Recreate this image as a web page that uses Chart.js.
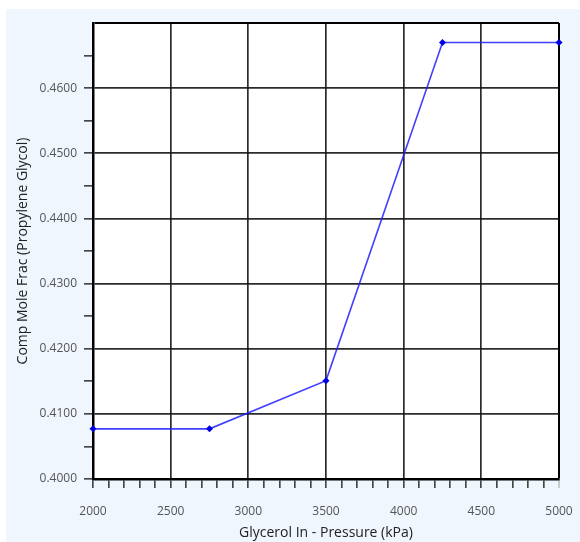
<!DOCTYPE html>
<html>
<head>
<meta charset="utf-8">
<script src="https://cdn.jsdelivr.net/npm/chart.js@4"></script>
<style>
  html, body { margin: 0; padding: 0; background: #fff; }
  #wrap { width: 580px; height: 542px; }
</style>
</head>
<body>
<div id="wrap"><canvas id="chart" width="580" height="542"></canvas></div>
<script>
// values
const pressure = [2000, 2750, 3500, 4250, 5000];
const moleFrac = [0.4077, 0.4077, 0.4151, 0.4670, 0.4670];

const xTitle = 'Glycerol In - Pressure (kPa)';
const yTitle = 'Comp Mole Frac (Propylene Glycol)';

const isMajorX = v => Math.round(v) % 500 === 0;
const isMajorY = v => Math.round(v / 0.005) % 2 === 0;

// keep the plot area where the picture has it
function noOverhang(s) {
    s.paddingLeft = 0;
    s.paddingRight = 0;
    s.paddingTop = 0;
    s.paddingBottom = 0;
}

// light blue panel behind everything, white plot area
const panelBg = {
    id: 'panelBg',
    beforeDraw(chart) {
        const ctx = chart.ctx;
        const a = chart.chartArea;
        ctx.save();
        ctx.fillStyle = '#ffffff';
        ctx.fillRect(0, 0, chart.width, chart.height);
        ctx.fillStyle = '#eff6fe';
        ctx.fillRect(6, 9, chart.width - 6, chart.height - 9);
        ctx.fillStyle = '#ffffff';
        ctx.fillRect(a.left, a.top, a.right - a.left, a.bottom - a.top);
        ctx.restore();
    }
};

new Chart(document.getElementById('chart'), {
    type: 'line',
    data: {
        datasets: [{
            data: pressure.map((p, i) => ({ x: p, y: moleFrac[i] })),
            borderColor: 'rgba(30, 30, 255, 0.85)',
            borderWidth: 1.6,
            pointStyle: 'rectRot',
            pointRadius: 3.5,
            pointBackgroundColor: '#0000e6',
            pointBorderColor: '#0000e6',
            pointBorderWidth: 0,
            tension: 0,
            clip: false
        }]
    },
    options: {
        responsive: false,
        animation: false,
        events: [],
        layout: { padding: { top: 23, right: 21, left: 0, bottom: 0 } },
        plugins: { legend: { display: false }, tooltip: { enabled: false } },
        scales: {
            x: {
                type: 'linear',
                min: 2000,
                max: 5000,
                afterFit: s => { s.height = 63; noOverhang(s); },
                ticks: {
                    stepSize: 100,
                    autoSkip: false,
                    maxRotation: 0,
                    padding: 16,
                    color: '#555',
                    font: { family: 'Open Sans', size: 12 },
                    callback: v => isMajorX(v) ? String(v) : ''
                },
                grid: {
                    color: c => {
                        const v = c.tick ? c.tick.value : 0;
                        if (v === 5000) return '#000';
                        return isMajorX(v) ? 'rgba(20,20,20,0.9)' : 'rgba(0,0,0,0)';
                    },
                    lineWidth: c => (c.tick && c.tick.value === 5000) ? 2 : 1.7,
                    tickColor: c => (c.tick && c.tick.value === 5000) ? '#bbb' : '#333',
                    tickWidth: 1.5,
                    tickLength: 9
                },
                border: { color: '#000', width: 2.5 },
                title: {
                    display: true,
                    text: xTitle,
                    color: '#222',
                    font: { family: 'Open Sans', size: 14 },
                    padding: { top: 0, bottom: 1 }
                }
            },
            y: {
                type: 'linear',
                min: 0.4,
                max: 0.47,
                afterFit: s => { s.width = 93; noOverhang(s); },
                ticks: {
                    stepSize: 0.005,
                    autoSkip: false,
                    padding: 7,
                    color: '#555',
                    font: { family: 'Open Sans', size: 12 },
                    callback: v => isMajorY(v) && v < 0.4699 ? v.toFixed(4) : ''
                },
                grid: {
                    color: c => {
                        const v = c.tick ? c.tick.value : 0;
                        if (v > 0.4699) return '#000';
                        return isMajorY(v) ? 'rgba(20,20,20,0.9)' : 'rgba(0,0,0,0)';
                    },
                    lineWidth: c => (c.tick && c.tick.value > 0.4699) ? 2 : 1.7,
                    tickColor: c => (c.tick && c.tick.value > 0.4699) ? 'rgba(0,0,0,0)' : '#333',
                    tickWidth: 1.5,
                    tickLength: 9
                },
                border: { color: '#000', width: 2.5 },
                title: {
                    display: true,
                    text: yTitle,
                    color: '#222',
                    font: { family: 'Open Sans', size: 14 },
                    padding: { top: 15, bottom: 0 }
                }
            }
        }
    },
    plugins: [panelBg]
});
</script>
</body>
</html>
